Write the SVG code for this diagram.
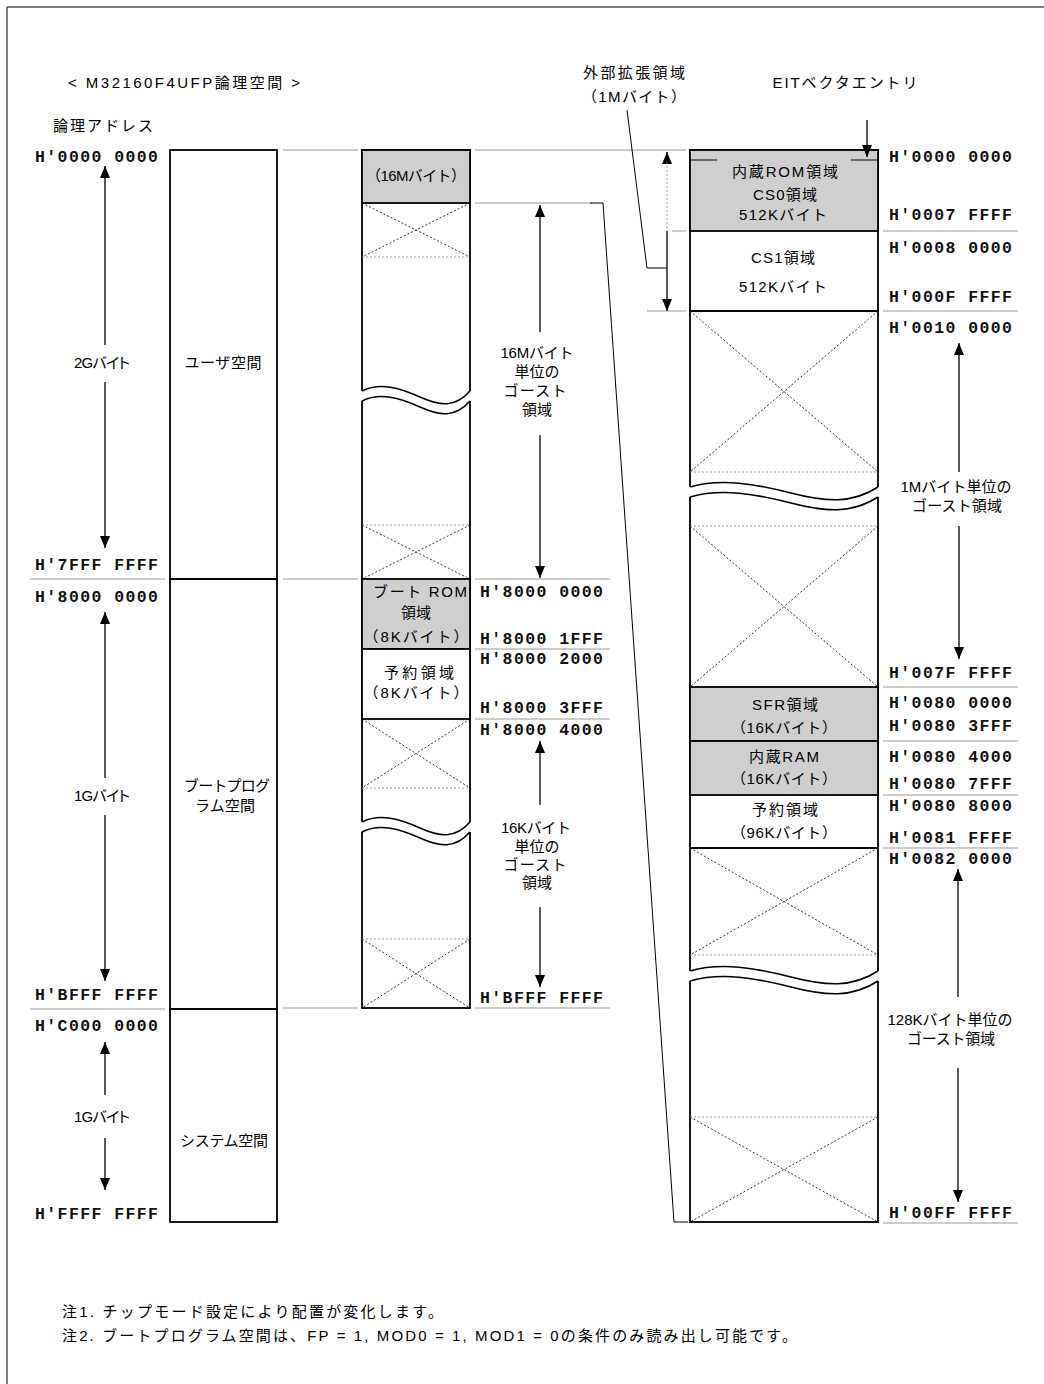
<svg xmlns="http://www.w3.org/2000/svg" xmlns:xlink="http://www.w3.org/1999/xlink" width="1044" height="1384" viewBox="0 0 1044 1384">
<style>
.box{fill:#fff;stroke:#000;stroke-width:1.8}
.grey{fill:#cfcfcf;stroke:#000;stroke-width:1.8}
.ln{stroke:#000;stroke-width:1.8;fill:none}
.sep{stroke:#999;stroke-width:1.2;fill:none}
.dot{stroke:#000;stroke-width:0.8;stroke-dasharray:2 2;fill:none}
.gdot{stroke:#888;stroke-width:0.8;stroke-dasharray:2 2;fill:none}
.t{font-family:"Liberation Sans","Noto Sans CJK JP",sans-serif;font-size:15px;fill:#000}
.p{font-feature-settings:"palt"}
.c{text-anchor:middle}
.m{font-family:"Liberation Mono",monospace;font-weight:bold;font-size:16.5px;fill:#111}
.ar{stroke:#000;stroke-width:1.3;fill:none;marker-end:url(#ah)}
.thin{stroke:#000;stroke-width:1;fill:none}
</style>
<defs>
<marker id="ah" viewBox="0 0 12 10" refX="12" refY="5" markerWidth="12" markerHeight="10" markerUnits="userSpaceOnUse" orient="auto">
<path d="M0,0 L12,5 L0,10 Z" fill="#000"/>
</marker>
<g id="brk">
<path d="M-2,0 L0,0 C18,-9 38,-3 58,6 C78,15 93,17 108,0 L110,0 L110,10 L108,10 C93,27 78,25 58,16 C38,7 18,1 0,10 L-2,10 Z" fill="#fff" stroke="none"/>
<path d="M0,0 C18,-9 38,-3 58,6 C78,15 93,17 108,0" fill="none" stroke="#000" stroke-width="1.6" vector-effect="non-scaling-stroke"/>
<path d="M0,10 C18,1 38,7 58,16 C78,25 93,27 108,10" fill="none" stroke="#000" stroke-width="1.6" vector-effect="non-scaling-stroke"/>
</g>
</defs>
<rect width="1044" height="1384" fill="#fff"/>
<path d="M7,1384 L7,7 L1044,7" class="thin"/>

<g id="title">
<text class="t" x="68" y="88" font-size="17" textLength="232" lengthAdjust="spacing">&lt; M32160F4UFP論理空間 &gt;</text>
<text class="t" x="53" y="131" font-size="16" textLength="100" lengthAdjust="spacing">論理アドレス</text>
</g>

<g id="left-column">
<rect class="box" x="170" y="150" width="107" height="1072"/>
<line class="ln" x1="170" y1="579" x2="277" y2="579"/>
<line class="ln" x1="170" y1="1009" x2="277" y2="1009"/>
<text class="t c" x="223" y="368" textLength="77" lengthAdjust="spacing">ユーザ空間</text>
<text class="t c" x="227" y="791" textLength="86" lengthAdjust="spacing">ブートプログ</text>
<text class="t c" x="225" y="811" textLength="60" lengthAdjust="spacing">ラム空間</text>
<text class="t c" x="224" y="1146" textLength="88" lengthAdjust="spacing">システム空間</text>
</g>

<g id="left-addresses">
<text class="m" x="35" y="162" textLength="123" lengthAdjust="spacing">H'0000 0000</text>
<text class="m" x="35" y="570" textLength="123" lengthAdjust="spacing">H'7FFF FFFF</text>
<text class="m" x="35" y="602" textLength="123" lengthAdjust="spacing">H'8000 0000</text>
<text class="m" x="35" y="1000" textLength="123" lengthAdjust="spacing">H'BFFF FFFF</text>
<text class="m" x="35" y="1031" textLength="123" lengthAdjust="spacing">H'C000 0000</text>
<text class="m" x="35" y="1219" textLength="123" lengthAdjust="spacing">H'FFFF FFFF</text>
<text class="t c p" x="102" y="368" textLength="56" lengthAdjust="spacing">2Gバイト</text>
<text class="t c p" x="102" y="801" textLength="56" lengthAdjust="spacing">1Gバイト</text>
<text class="t c p" x="102" y="1122" textLength="56" lengthAdjust="spacing">1Gバイト</text>
</g>

<g id="middle-column">
<rect class="box" x="362" y="150" width="108" height="858"/>
<rect class="grey" x="362" y="150" width="108" height="53"/>
<text class="t c" x="416" y="181" textLength="100" lengthAdjust="spacing">（16Mバイト）</text>
<path class="dot" d="M362,203 L470,257 M470,203 L362,257"/>
<line class="gdot" x1="362" y1="257" x2="470" y2="257"/>
<path class="dot" d="M362,525 L470,579 M470,525 L362,579"/>
<line class="gdot" x1="362" y1="525" x2="470" y2="525"/>
<rect class="grey" x="362" y="579" width="108" height="70"/>
<text class="t c" x="420" y="597" textLength="94" lengthAdjust="spacing">ブート ROM</text>
<text class="t c" x="416" y="618">領域</text>
<text class="t c" x="416" y="642" textLength="105" lengthAdjust="spacing">（8Kバイト）</text>
<rect class="box" x="362" y="649" width="108" height="70"/>
<text class="t c" x="419" y="678" textLength="70" lengthAdjust="spacing">予約領域</text>
<text class="t c" x="416" y="698" textLength="105" lengthAdjust="spacing">（8Kバイト）</text>
<path class="dot" d="M362,719 L470,788 M470,719 L362,788"/>
<line class="gdot" x1="362" y1="788" x2="470" y2="788"/>
<path class="dot" d="M362,939 L470,1008 M470,939 L362,1008"/>
<line class="gdot" x1="362" y1="939" x2="470" y2="939"/>
<use xlink:href="#brk" href="#brk" transform="translate(362,391)"/>
<use xlink:href="#brk" href="#brk" transform="translate(362,822)"/>
</g>

<g id="middle-addresses">
<text class="m" x="480" y="597" textLength="123" lengthAdjust="spacing">H'8000 0000</text>
<text class="m" x="480" y="644" textLength="123" lengthAdjust="spacing">H'8000 1FFF</text>
<text class="m" x="480" y="664" textLength="123" lengthAdjust="spacing">H'8000 2000</text>
<text class="m" x="480" y="713" textLength="123" lengthAdjust="spacing">H'8000 3FFF</text>
<text class="m" x="480" y="735" textLength="123" lengthAdjust="spacing">H'8000 4000</text>
<text class="m" x="480" y="1003" textLength="123" lengthAdjust="spacing">H'BFFF FFFF</text>
<text class="t c" x="537" y="358" textLength="73" lengthAdjust="spacing">16Mバイト</text>
<text class="t c" x="537" y="377" textLength="45" lengthAdjust="spacing">単位の</text>
<text class="t c" x="535" y="396" textLength="63" lengthAdjust="spacing">ゴースト</text>
<text class="t c" x="537" y="415">領域</text>
<text class="t c" x="536" y="833" textLength="70" lengthAdjust="spacing">16Kバイト</text>
<text class="t c" x="537" y="852" textLength="45" lengthAdjust="spacing">単位の</text>
<text class="t c" x="535" y="870" textLength="63" lengthAdjust="spacing">ゴースト</text>
<text class="t c" x="537" y="888">領域</text>
</g>

<g id="right-column">
<rect class="box" x="690" y="150" width="188" height="1072"/>
<rect class="grey" x="690" y="150" width="188" height="81"/>
<path class="thin" d="M690,160 L717,160 M851,160 L877,160"/>
<text class="t c" x="785" y="177" textLength="106" lengthAdjust="spacing">内蔵ROM領域</text>
<text class="t c" x="785" y="200" textLength="64" lengthAdjust="spacing">CS0領域</text>
<text class="t c" x="783" y="220" textLength="88" lengthAdjust="spacing">512Kバイト</text>
<line class="ln" x1="690" y1="311" x2="878" y2="311"/>
<text class="t c" x="783" y="263" textLength="64" lengthAdjust="spacing">CS1領域</text>
<text class="t c" x="783" y="292" textLength="88" lengthAdjust="spacing">512Kバイト</text>
<path class="dot" d="M690,311 L878,472 M878,311 L690,472"/>
<line class="gdot" x1="690" y1="472" x2="878" y2="472"/>
<path class="dot" d="M690,526 L878,687 M878,526 L690,687"/>
<line class="gdot" x1="690" y1="526" x2="878" y2="526"/>
<rect class="grey" x="690" y="687" width="188" height="54"/>
<text class="t c" x="785" y="710" textLength="66" lengthAdjust="spacing">SFR領域</text>
<text class="t c" x="784" y="733" textLength="106" lengthAdjust="spacing">（16Kバイト）</text>
<rect class="grey" x="690" y="741" width="188" height="54"/>
<text class="t c" x="784" y="762" textLength="70" lengthAdjust="spacing">内蔵RAM</text>
<text class="t c" x="784" y="784" textLength="106" lengthAdjust="spacing">（16Kバイト）</text>
<line class="ln" x1="690" y1="848" x2="878" y2="848"/>
<text class="t c" x="785" y="815" textLength="66" lengthAdjust="spacing">予約領域</text>
<text class="t c" x="784" y="838" textLength="106" lengthAdjust="spacing">（96Kバイト）</text>
<path class="dot" d="M690,848 L878,955 M878,848 L690,955"/>
<line class="gdot" x1="690" y1="955" x2="878" y2="955"/>
<path class="dot" d="M690,1117 L878,1222 M878,1117 L690,1222"/>
<line class="gdot" x1="690" y1="1117" x2="878" y2="1117"/>
<use xlink:href="#brk" href="#brk" transform="translate(690,487) scale(1.7407,1)"/>
<use xlink:href="#brk" href="#brk" transform="translate(690,971) scale(1.7407,1)"/>
</g>

<g id="right-addresses">
<text class="m" x="889" y="162" textLength="123" lengthAdjust="spacing">H'0000 0000</text>
<text class="m" x="889" y="220" textLength="123" lengthAdjust="spacing">H'0007 FFFF</text>
<text class="m" x="889" y="253" textLength="123" lengthAdjust="spacing">H'0008 0000</text>
<text class="m" x="889" y="302" textLength="123" lengthAdjust="spacing">H'000F FFFF</text>
<text class="m" x="889" y="333" textLength="123" lengthAdjust="spacing">H'0010 0000</text>
<text class="m" x="889" y="678" textLength="123" lengthAdjust="spacing">H'007F FFFF</text>
<text class="m" x="889" y="708" textLength="123" lengthAdjust="spacing">H'0080 0000</text>
<text class="m" x="889" y="731" textLength="123" lengthAdjust="spacing">H'0080 3FFF</text>
<text class="m" x="889" y="762" textLength="123" lengthAdjust="spacing">H'0080 4000</text>
<text class="m" x="889" y="789" textLength="123" lengthAdjust="spacing">H'0080 7FFF</text>
<text class="m" x="889" y="811" textLength="123" lengthAdjust="spacing">H'0080 8000</text>
<text class="m" x="889" y="843" textLength="123" lengthAdjust="spacing">H'0081 FFFF</text>
<text class="m" x="889" y="864" textLength="123" lengthAdjust="spacing">H'0082 0000</text>
<text class="m" x="889" y="1218" textLength="123" lengthAdjust="spacing">H'00FF FFFF</text>
<text class="t c" x="956" y="492" textLength="111" lengthAdjust="spacing">1Mバイト単位の</text>
<text class="t c" x="957" y="511" textLength="90" lengthAdjust="spacing">ゴースト領域</text>
<text class="t c" x="950" y="1025" textLength="125" lengthAdjust="spacing">128Kバイト単位の</text>
<text class="t c" x="951" y="1044" textLength="88" lengthAdjust="spacing">ゴースト領域</text>
</g>

<g id="annotations">
<text class="t c" x="634" y="78" font-size="16" textLength="102" lengthAdjust="spacing">外部拡張領域</text>
<text class="t c" x="634" y="102" font-size="16" textLength="104" lengthAdjust="spacing">（1Mバイト）</text>
<text class="t c" x="845" y="88" font-size="16" textLength="145" lengthAdjust="spacing">EITベクタエントリ</text>
</g>

<g id="connectors">
<path class="sep" d="M283,150 L358,150 M283,579 L358,579 M283,1008 L358,1008 M30,579 L165,579 M30,1009 L165,1009"/>
<path class="sep" d="M475,150 L686,150 M475,203 L592,203 M475,579 L610,579 M475,649 L610,649 M475,719 L610,719 M475,1008 L610,1008"/>
<path class="sep" d="M672,231 L686,231 M647,311 L686,311"/>
<path class="sep" d="M883,231 L1018,231 M883,311 L1018,311 M883,687 L1018,687 M883,741 L1018,741 M883,795 L1018,795 M883,848 L1018,848 M883,1223 L1018,1223"/>
<path class="thin" d="M590,203 L603,203 L674,1222 L688,1222"/>
<path class="thin" stroke="#555" d="M627,110 L647,268 L667,268"/>
<line class="ar" x1="105" y1="345" x2="105" y2="166"/>
<line class="ar" x1="105" y1="382" x2="105" y2="548"/>
<line class="ar" x1="105" y1="778" x2="105" y2="612"/>
<line class="ar" x1="105" y1="815" x2="105" y2="981"/>
<line class="ar" x1="105" y1="1095" x2="105" y2="1042"/>
<line class="ar" x1="105" y1="1138" x2="105" y2="1190"/>
<line class="ar" x1="540" y1="332" x2="540" y2="205"/>
<line class="ar" x1="540" y1="435" x2="540" y2="578"/>
<line class="ar" x1="540" y1="805" x2="540" y2="741"/>
<line class="ar" x1="540" y1="907" x2="540" y2="987"/>
<line class="ar" x1="667" y1="164" x2="667" y2="152"/>
<line class="gdot" x1="667" y1="162" x2="667" y2="231"/>
<line class="ar" x1="667" y1="231" x2="667" y2="311"/>
<line class="ar" x1="867" y1="120" x2="867" y2="157"/>
<line class="ar" x1="959" y1="472" x2="959" y2="343"/>
<line class="ar" x1="959" y1="526" x2="959" y2="659"/>
<line class="ar" x1="958" y1="997" x2="958" y2="869"/>
<line class="ar" x1="958" y1="1068" x2="958" y2="1202"/>
</g>

<g id="notes">
<text class="t" x="62" y="1317" font-size="16" textLength="381" lengthAdjust="spacing">注1. チップモード設定により配置が変化します。</text>
<text class="t" x="62" y="1341" font-size="16" textLength="735" lengthAdjust="spacing">注2. ブートプログラム空間は、FP = 1, MOD0 = 1, MOD1 = 0の条件のみ読み出し可能です。</text>
</g>
</svg>
